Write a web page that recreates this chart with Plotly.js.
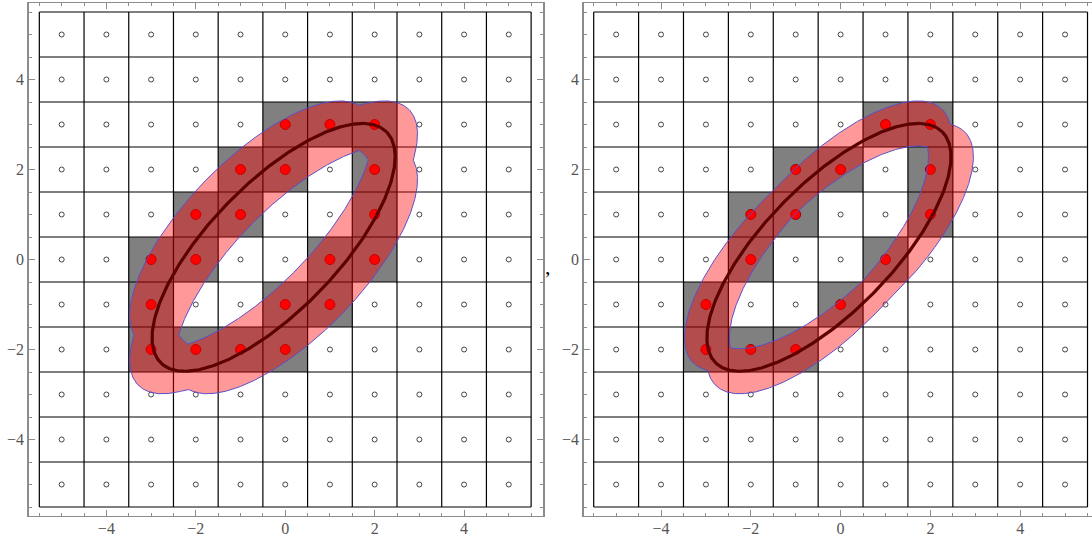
<!DOCTYPE html>
<html><head><meta charset="utf-8">
<script src="https://cdn.plot.ly/plotly-3.0.1.min.js"></script>
<style>html,body{margin:0;padding:0;background:#fff}#chart{width:1092px;height:540px}</style>
</head><body><div id="chart"></div>
<script>
// ---------- data ----------
const latticeValues = [-5, -4, -3, -2, -1, 0, 1, 2, 3, 4, 5];
// left panel: cells whose four corners straddle the curve
const leftCellX = [0, 1, 2, -1, 0, 2, -2, -1, 2, -3, -2, 1, 2, -3, 0, 1, -3, -2, -1, 0];
const leftCellY = [3, 3, 3, 2, 2, 2, 1, 1, 1, 0, 0, 0, 0, -1, -1, -1, -2, -2, -2, -2];
// right panel: cells whose four edge midpoints straddle the curve
const rightCellX = [1, 2, -1, 0, 2, -2, -1, 2, -2, 1, -3, 0, -3, -2, -1];
const rightCellY = [3, 3, 2, 2, 2, 1, 1, 1, 0, 0, -1, -1, -2, -2, -2];
// the ellipse (same in both panels)
const ellipseCenter = [-0.26, 0.27];
const ellipseSemiAxes = [3.6, 1.42];
const ellipseAngleDeg = [45.5];
// test points of a cell, relative to its centre
const leftStencilX = [-0.5, 0.5, 0.5, -0.5];
const leftStencilY = [-0.5, -0.5, 0.5, 0.5];
const rightStencilX = [0.5, 0, -0.5, 0];
const rightStencilY = [0, 0.5, 0, -0.5];

// ---------- geometry helpers ----------
const th = ellipseAngleDeg[0] * Math.PI / 180, cT = Math.cos(th), sT = Math.sin(th);
const A = ellipseSemiAxes[0], B = ellipseSemiAxes[1];
function uv(wx, wy) { return [wx * cT + wy * sT, -wx * sT + wy * cT]; }
function Q(wx, wy) { const [u, v] = uv(wx, wy); return (u / A) ** 2 + (v / B) ** 2; }
function Bf(sx, sy, dx, dy) { const [u1, v1] = uv(sx, sy), [u2, v2] = uv(dx, dy); return u1 * u2 / (A * A) + v1 * v2 / (B * B); }

function ellipseCurve() {
  const xs = [], ys = [];
  for (let i = 0; i <= 480; i++) {
    const t = 2 * Math.PI * i / 480;
    const u = A * Math.cos(t), v = B * Math.sin(t);
    xs.push(ellipseCenter[0] + u * cT - v * sT);
    ys.push(ellipseCenter[1] + u * sT + v * cT);
  }
  return [xs, ys];
}
// band = union (outer) / intersection (inner) of the ellipse shifted by the stencil offsets
function bandLoops(stX, stY) {
  const ox = [], oy = [], ix = [], iy = [];
  const N = 1440;
  for (let i = 0; i <= N; i++) {
    const p = 2 * Math.PI * i / N, dx = Math.cos(p), dy = Math.sin(p);
    const qd = Q(dx, dy);
    let rMax = -Infinity, rMin = Infinity;
    for (let k = 0; k < stX.length; k++) {
      const qs = Q(stX[k], stY[k]), b = Bf(stX[k], stY[k], dx, dy);
      const r = (-b + Math.sqrt(b * b - qd * (qs - 1))) / qd;
      rMax = Math.max(rMax, r); rMin = Math.min(rMin, r);
    }
    ox.push(ellipseCenter[0] + rMax * dx); oy.push(ellipseCenter[1] + rMax * dy);
    ix.push(ellipseCenter[0] + rMin * dx); iy.push(ellipseCenter[1] + rMin * dy);
  }
  return { ox, oy, ix, iy };
}

// ---------- traces ----------
function panelTraces(xa, ya, cellX, cellY, stX, stY) {
  const tr = [];
  const gx = [], gy = [];
  const lo = latticeValues[0] - 0.5, hi = latticeValues[latticeValues.length - 1] + 0.5;
  const edges = [lo].concat(latticeValues.map(v => v + 0.5));
  edges.forEach(e => { gx.push(e, e, null); gy.push(lo, hi, null); gx.push(lo, hi, null); gy.push(e, e, null); });
  tr.push({ x: gx, y: gy, xaxis: xa, yaxis: ya, mode: 'lines', line: { color: '#000', width: 1.2 }, hoverinfo: 'skip' });
  const px = [], py = [];
  latticeValues.forEach(xv => latticeValues.forEach(yv => { px.push(xv); py.push(yv); }));
  tr.push({ x: px, y: py, xaxis: xa, yaxis: ya, mode: 'markers', marker: { size: 5, color: '#fff', line: { color: '#444', width: 1 } }, hoverinfo: 'skip' });
  tr.push({ x: cellX, y: cellY, xaxis: xa, yaxis: ya, mode: 'markers', marker: { size: 10, color: '#ff0000', line: { color: '#9a0000', width: 1 } }, hoverinfo: 'skip' });
  const bl = bandLoops(stX, stY);
  tr.push({ x: bl.ix, y: bl.iy, xaxis: xa, yaxis: ya, mode: 'lines', line: { color: '#5a4fc8', width: 1 }, hoverinfo: 'skip' });
  tr.push({ x: bl.ox, y: bl.oy, xaxis: xa, yaxis: ya, mode: 'lines', fill: 'tonext', fillcolor: 'rgba(255,0,0,0.4)', line: { color: '#5a4fc8', width: 1 }, hoverinfo: 'skip' });
  const [ex, ey] = ellipseCurve();
  tr.push({ x: ex, y: ey, xaxis: xa, yaxis: ya, mode: 'lines', line: { color: '#5c0000', width: 3.2 }, hoverinfo: 'skip' });
  return tr;
}

const data = panelTraces('x', 'y', leftCellX, leftCellY, leftStencilX, leftStencilY)
  .concat(panelTraces('x2', 'y2', rightCellX, rightCellY, rightStencilX, rightStencilY));

function cellShapes(cellX, cellY, xr, yr) {
  return cellX.map((cx, i) => ({ type: 'rect', xref: xr, yref: yr, x0: cx - 0.5, x1: cx + 0.5, y0: cellY[i] - 0.5, y1: cellY[i] + 0.5, fillcolor: '#808080', line: { width: 0 }, layer: 'below' }));
}

const W = 1092, H = 540;
const axisStyle = {
  showgrid: false, zeroline: false, showline: true, linecolor: '#8c8c8c', linewidth: 1.3,
  mirror: 'ticks', ticks: 'inside', ticklen: 6, tickwidth: 1, tickcolor: '#8c8c8c',
  tickmode: 'linear', tick0: 0, dtick: 2,
  minor: { tickmode: 'linear', tick0: 0, dtick: 0.5, ticks: 'inside', ticklen: 3, tickcolor: '#8c8c8c', tickwidth: 1, showgrid: false },
  tickfont: { family: 'Liberation Serif', size: 16, color: '#555' },
  fixedrange: true
};
const yDom = [1 - 516 / H, 1 - 3 / H];
const layout = {
  width: W, height: H, margin: { l: 0, r: 0, t: 0, b: 0 }, showlegend: false,
  paper_bgcolor: '#fff', plot_bgcolor: '#fff',
  xaxis: Object.assign({}, axisStyle, { domain: [28.6 / W, 543.2 / W], range: [-5.74, 5.77], anchor: 'y', ticklabelstandoff: -3 }),
  yaxis: Object.assign({}, axisStyle, { domain: yDom, range: [-5.7, 5.7], anchor: 'x' }),
  xaxis2: Object.assign({}, axisStyle, { domain: [583.6 / W, 1], range: [-5.725, 5.6], anchor: 'y2', ticklabelstandoff: -3 }),
  yaxis2: Object.assign({}, axisStyle, { domain: yDom, range: [-5.7, 5.7], anchor: 'x2', mirror: false }),
  shapes: cellShapes(leftCellX, leftCellY, 'x', 'y').concat(cellShapes(rightCellX, rightCellY, 'x2', 'y2')),
  annotations: [{ text: ',', xref: 'paper', yref: 'paper', x: 548 / W, y: 1 - 266 / H, showarrow: false, font: { family: 'Liberation Serif', size: 22, color: '#000' } }]
};
Plotly.newPlot('chart', data, layout, { displayModeBar: false, staticPlot: true });
</script></body></html>
